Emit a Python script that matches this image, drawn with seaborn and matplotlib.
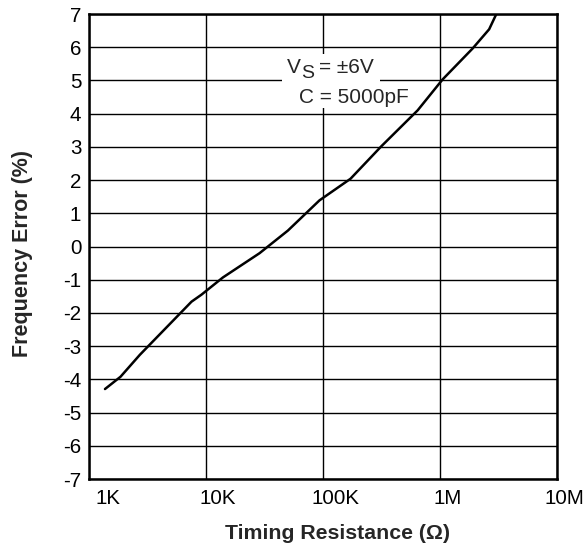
import numpy as np
import pandas as pd
import seaborn as sns
import matplotlib
matplotlib.use("Agg")
from matplotlib import pyplot as plt
from matplotlib.patches import Rectangle
from matplotlib.transforms import ScaledTranslation
from matplotlib.ticker import NullLocator

# curve (ohms, %)
resistance = [1370, 1860, 2720, 7520, 9140, 13960, 28700, 50100, 93300,
              171800, 315500, 644000, 1052000, 1897000, 2630000, 3030000]
freq_error = [-4.29, -3.92, -3.26, -1.66, -1.45, -0.93, -0.20, 0.48, 1.39,
              2.04, 3.02, 4.10, 5.03, 5.96, 6.54, 7.0]

x_ticks = [1e3, 1e4, 1e5, 1e6, 1e7]
x_tick_labels = ["1K", "10K", "100K", "1M", "10M"]
y_ticks = list(range(-7, 8))

sns.set_style("white")
plt.rcParams['font.family'] = ['Liberation Sans', 'DejaVu Sans']

df = pd.DataFrame({"resistance": resistance, "error": freq_error})

fig = plt.figure(figsize=(5.87, 5.5), dpi=100)
ax = fig.add_axes([0.1516, 0.129, 0.7973, 0.8455])

sns.lineplot(data=df, x="resistance", y="error", estimator=None, sort=False,
             color="black", lw=1.8, ax=ax, zorder=4)

ax.set_xscale("log")
ax.set_xlim(1e3, 1e7)
ax.set_ylim(-7, 7)
ax.set_xticks(x_ticks)
ax.set_xticklabels(x_tick_labels)
ax.xaxis.set_minor_locator(NullLocator())
ax.set_yticks(y_ticks)
ax.set_yticklabels([str(v) for v in y_ticks])
ax.tick_params(axis="both", length=0, labelsize=14.8, colors="black")
ax.tick_params(axis="x", pad=7.5)
ax.tick_params(axis="y", pad=5.5)
ax.grid(True, which="major", color="black", lw=1.0)
for s in ax.spines.values():
    s.set_color("black")
    s.set_linewidth(1.8)
    s.set_zorder(5)

# labels in the original sit a little right of their grid lines
nudges = [19, 12, 13, 8, 7.5]
for lbl, dx in zip(ax.get_xticklabels(), nudges):
    lbl.set_transform(lbl.get_transform() + ScaledTranslation(dx / 100, 0, fig.dpi_scale_trans))

ax.set_xlabel("Timing Resistance (\u03a9)", fontsize=15.3, fontweight="bold")
ax.set_ylabel("Frequency Error (%)", fontsize=15.5, fontweight="bold")
ax.xaxis.set_label_coords(0.531, -0.118)
ax.xaxis.label.set_va("center")
ax.yaxis.set_label_coords(-0.141, 0.484)
ax.yaxis.label.set_va("center")

# white box behind the conditions text
ax.add_patch(Rectangle((0.412, 0.797), 0.21, 0.118, transform=ax.transAxes,
                       facecolor="white", edgecolor="none", zorder=3))
anchor = (0.4226, 0.873)
for txt, dx, dy, size in [("V", 0, 0, 15), ("S", 14, -5, 14), ("= \u00b16V", 32, 0, 15)]:
    ax.annotate(txt, xy=anchor, xycoords="axes fraction", xytext=(dx, dy),
                textcoords="offset pixels", ha="left", va="baseline",
                fontsize=size, zorder=4)
ax.text(0.4487, 0.8086, "C = 5000pF", transform=ax.transAxes,
        ha="left", va="baseline", fontsize=15, zorder=4)

fig.savefig("out.png", dpi=100)
